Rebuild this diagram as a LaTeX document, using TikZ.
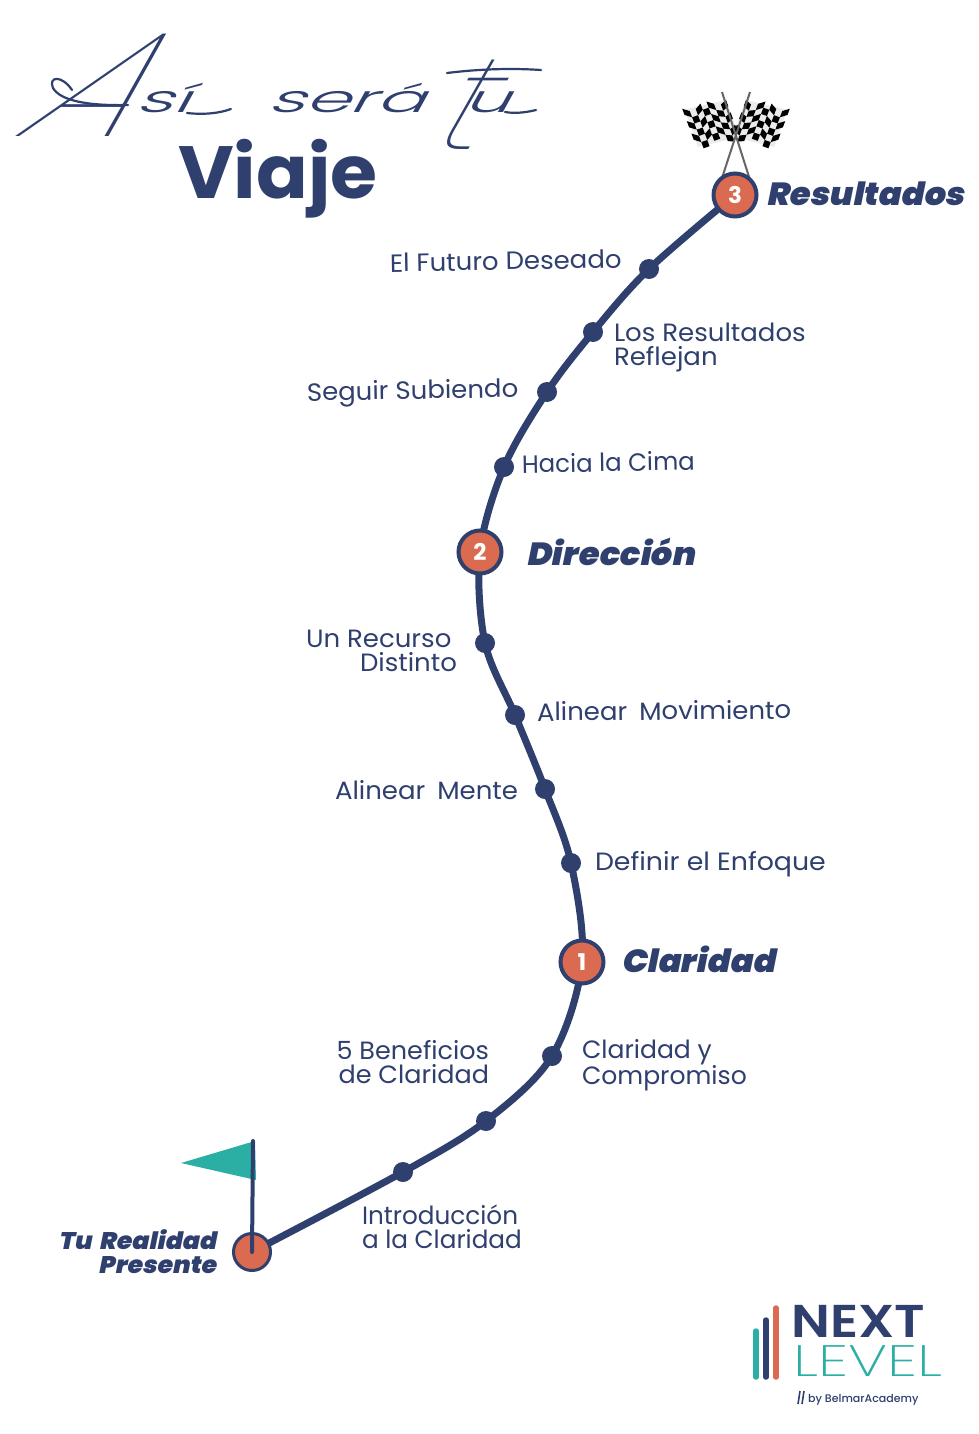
\documentclass[tikz,border=0pt]{standalone}
\usepackage{fontspec}
\usepackage{graphicx}
\setmainfont{Poppins}
\newfontfamily\labf[FakeStretch=1.04]{Poppins}
\newfontfamily\bigA[FakeSlant=1.0,FakeStretch=1.15]{Poppins Thin}
\newfontfamily\lowf[FakeSlant=0.55,FakeStretch=1.9]{Poppins Light}
\newfontfamily\bigT[FakeSlant=0.57,FakeStretch=1.1]{Poppins Thin}
\newfontfamily\nxt[FakeStretch=1.15]{Poppins SemiBold}
\newfontfamily\lvl[FakeStretch=1.39]{Poppins ExtraLight}
\newfontfamily\hd[FakeStretch=1.03]{Poppins Bold}
\newfontfamily\by{Poppins Medium}
\newfontfamily\heavy[FakeSlant=0.2,FakeStretch=1.05]{Poppins Black}
\definecolor{navy}{HTML}{2F3F6E}
\definecolor{orng}{HTML}{DA6B50}
\definecolor{teal2}{HTML}{2BAFA5}
\newcommand\cell[2]{%
  \pgfmathsetmacro\wa{0.5*sin(#1*80)}\pgfmathsetmacro\wb{0.5*sin((#1+1)*80)}%
  \fill[black] (726-6.2*#1+2.3*#2+2.3*\wa, 100+1.4*#1+6.2*#2+6.2*\wa)
    -- (726-6.2*#1-6.2+2.3*#2+2.3*\wb, 100+1.4*#1+1.4+6.2*#2+6.2*\wb)
    -- (726-6.2*#1-6.2+2.3*#2+2.3+2.3*\wb, 100+1.4*#1+1.4+6.2*#2+6.2+6.2*\wb)
    -- (726-6.2*#1+2.3*#2+2.3+2.3*\wa, 100+1.4*#1+6.2*#2+6.2+6.2*\wa) -- cycle;}
\newcommand\flagcells{%
  \fill[black!8] (726,100) -- (684.6,109.8) -- (698,147) -- (739.4,137) -- cycle;
  \foreach \i in {0,...,6}{\foreach \j in {0,...,5}{%
    \pgfmathtruncatemacro\prt{mod(\i+\j,2)}%
    \ifnum\prt=0 \cell{\i}{\j}\fi}}}
\tikzset{
  route/.style={draw=navy,line width=7pt,line cap=round},
  dot/.style={circle,fill=navy,minimum size=20pt,inner sep=0pt},
  stage/.style={circle,draw=navy,fill=orng,line width=4pt,minimum size=43pt,inner sep=0pt,text=white,font=\fontsize{23}{23}\selectfont\bfseries},
  startc/.style={circle,draw=navy,fill=orng,line width=3pt,minimum size=37pt,inner sep=0pt},
  lab/.style={inner sep=0pt,outer sep=0pt,text=navy,font=\fontsize{25}{24}\selectfont\labf,align=left},
  labr/.style={lab,align=right},
  big/.style={inner sep=0pt,outer sep=0pt,text=navy,font=\fontsize{32}{25}\selectfont\heavy},
  swash/.style={draw=navy,line width=2.2pt,line cap=round},
  pole/.style={draw=gray!80!black,line width=2pt},
  bar/.style={line width=5.5pt,line cap=round}
}
\begin{document}
\begin{tikzpicture}[x=1pt,y=-1pt]
\useasboundingbox[fill=white] (0,0) rectangle (978,1434);
% route points
\coordinate (p0) at (252,1252);
\coordinate (p1) at (403,1172);
\coordinate (p2) at (486,1121);
\coordinate (p3) at (552,1056);
\coordinate (p4) at (582,962);
\coordinate (p5) at (571,863);
\coordinate (p6) at (545,789);
\coordinate (p7) at (515,715);
\coordinate (p8) at (485,643);
\coordinate (p9) at (480,552);
\coordinate (p10) at (504,467);
\coordinate (p11) at (547,392);
\coordinate (p12) at (593,332);
\coordinate (p13) at (649,269);
\coordinate (p14) at (735,195);
\draw[route] plot[smooth,tension=0.55] coordinates {(p0) (p1) (p2) (p3) (p4) (p5) (p6) (p7) (p8) (p9) (p10) (p11) (p12) (p13) (p14)};
\foreach \k in {1,2,3,5,6,7,8,10,11,12,13}{\node[dot] (d\k) at (p\k) {};}
\node[stage] (s1) at (p4) {1};
\node[stage] (s2) at (p9) {2};
% start flag
\node[startc] (s0) at (p0) {};
\fill[teal2] (181,1163) -- (255,1141) -- (256,1180) -- cycle;
\draw[navy,line width=4pt,line cap=round] (253,1141) -- (p0);
% finish flags
\flagcells
\begin{scope}[xshift=1472pt,xscale=-1]
\flagcells
\end{scope}
\draw[pole] (722,92) -- (750,180);
\draw[pole] (750,92) -- (722,178);
\node[stage] (s3) at (p14) {3};
% title
\node[anchor=base west,inner sep=0pt,text=navy] (script) at (10,137) {\makebox[125pt][l]{\bigA\fontsize{150}{150}\selectfont A}\makebox[132pt][l]{\raisebox{24pt}{\lowf\fontsize{38}{38}\selectfont sí}}\makebox[158pt][l]{\raisebox{24pt}{\lowf\fontsize{38}{38}\selectfont será}}};
\node[anchor=base west,inner sep=0pt,text=navy] (scripttu) at (425,150) {\makebox[38pt][l]{\bigT\fontsize{132}{132}\selectfont t}\raisebox{37pt}{\lowf\fontsize{38}{38}\selectfont u}};
\draw[swash] (72,90) .. controls (62,75) and (48,76) .. (53,88) .. controls (60,100) and (85,106) .. (128,105);
\draw[swash] (187,113) .. controls (205,115) and (220,113) .. (231,109);
\draw[swash] (447,73) .. controls (480,69) and (510,68) .. (541,70);
\draw[swash] (505,112) .. controls (516,114) and (528,112) .. (536,110);
\node[anchor=base west,inner sep=0pt,text=navy,font=\fontsize{74}{74}\selectfont\hd] (viaje) at (178,198) {Viaje};
% bold labels
\node[big,anchor=base west] (lr) at (766,206) {Resultados};
\node[big,anchor=base west] (ld) at (526,565) {Dirección};
\node[big,anchor=base west] (lc) at (621,972) {Claridad};
\node[big,anchor=east,align=right,font=\fontsize{24}{24}\selectfont\heavy] (lt) at (216,1252) {Tu\hspace{3pt} Realidad\\Presente};
% labels
\node[lab,anchor=base west,rotate=1] (a) at (390,272) {El Futuro Deseado};
\node[lab,anchor=west] (b) at (614,347) {Los Resultados\\Reflejan};
\node[lab,anchor=base west,rotate=1] (c) at (307,401) {Seguir Subiendo};
\node[lab,anchor=base west,rotate=1,xscale=0.94] (e) at (522,473) {Hacia la Cima};
\node[lab,anchor=west] (f) at (306,651) {Un Recurso\\\hspace*{54pt}Distinto};
\node[lab,anchor=base west,rotate=0.5] (g) at (537,721) {Alinear\hspace{5pt} Movimiento};
\node[lab,anchor=base west] (h) at (335,799) {Alinear\hspace{5pt} Mente};
\node[lab,anchor=base west,xscale=1.03] (i) at (595,870) {Definir el Enfoque};
\node[lab,anchor=west,xscale=0.965] (j) at (582,1065) {Claridad y\\Compromiso};
\node[labr,anchor=east,xscale=0.98] (k) at (489,1062) {5 Beneficios\\de Claridad};
\node[lab,anchor=west,xscale=0.95] (l) at (362,1227) {Introducción\\a la Claridad};
% logo
\draw[bar,teal2] (756,1331) -- (756,1377);
\draw[bar,navy] (766,1320) -- (766,1377);
\draw[bar,orng] (776,1308) -- (776,1377);
\node[anchor=base west,inner sep=0pt,text=navy,font=\fontsize{46}{46}\selectfont\nxt] (nx) at (791,1337) {NEXT};
\node[anchor=base west,inner sep=0pt,text=teal2,font=\fontsize{44}{44}\selectfont\lvl] (lv) at (793,1376) {LEVEL};
\draw[navy,line width=1.6pt] (800,1391) -- (798,1404);
\draw[navy,line width=1.6pt] (804,1391) -- (802,1404);
\node[anchor=base west,inner sep=0pt,text=navy,font=\fontsize{11}{11}\selectfont\by] (byl) at (808,1402) {by BelmarAcademy};
\end{tikzpicture}
\end{document}
